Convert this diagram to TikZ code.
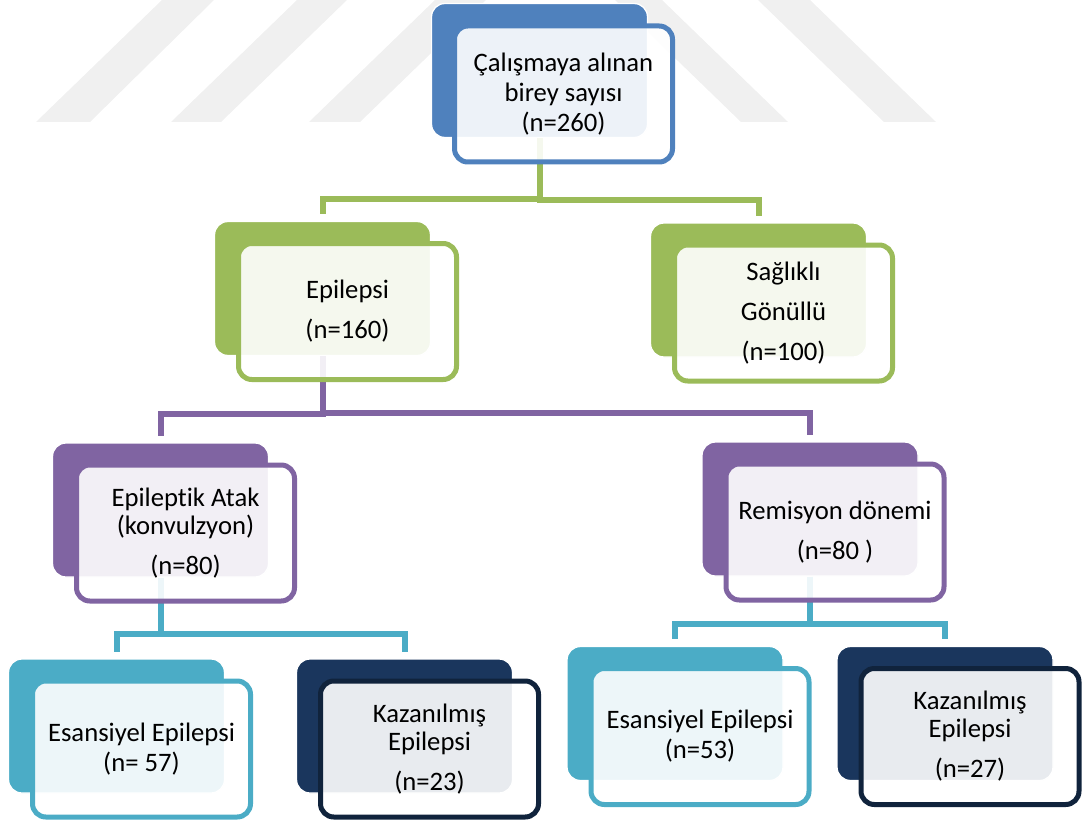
\documentclass[tikz,border=0pt]{standalone}
\usepackage{fontspec}
\setmainfont{Carlito}[Ligatures = NoCommon]

\definecolor{lvlblue}{HTML}{4F81BD}
\definecolor{lvlgreen}{HTML}{9BBB59}
\definecolor{lvlpurple}{HTML}{8064A2}
\definecolor{lvlteal}{HTML}{4BACC6}
\definecolor{lvlnavy}{HTML}{1A365D}
\definecolor{lvlnavyline}{HTML}{10233C}

\begin{document}
\begin{tikzpicture}[x = 0.75pt, y = -0.75pt,
    back/.style = {rectangle, rounded corners = 10pt, fill = #1, draw = white,
        line width = 1pt, minimum width = 162pt, minimum height = 100.5pt, inner sep = 0pt},
    front/.style = {rectangle, rounded corners = 10pt, draw = #1, line width = 3.75pt,
        fill = white, fill opacity = 0.9, text opacity = 1, minimum width = 163.5pt,
        minimum height = 102pt, inner sep = 0pt, align = center,
        font = \fontsize{20}{21}\selectfont},
    link/.style = {draw = #1, line width = 4.5pt, shorten > = 5pt}]

        \useasboundingbox (0, 0) rectangle (1084, 820);

        % Faint stripes of the watermark behind the chart.
        \fill[black!6] (36, 122) -- (90, 122) -- (214, 0) -- (162, 0) -- cycle;
        \fill[black!6] (171, 122) -- (221, 122) -- (347, 0) -- (297, 0) -- cycle;
        \fill[black!6] (309, 122) -- (360, 122) -- (486, 0) -- (435, 0) -- cycle;
        \fill[black!6] (741, 122) -- (788, 122) -- (662, 0) -- (615, 0) -- cycle;
        \fill[black!6] (884, 122) -- (936, 122) -- (810, 0) -- (758, 0) -- cycle;

        % Solid back boxes, one per entry.
        \node[back = lvlblue] (topb) at (539.5, 70.5) {};
        \node[back = lvlgreen] (epib) at (322.5, 288.5) {};
        \node[back = lvlgreen] (sagb) at (758.5, 290) {};
        \node[back = lvlpurple] (atakb) at (160.5, 510) {};
        \node[back = lvlpurple] (remb) at (810, 509) {};
        \node[back = lvlteal] (esaLb) at (116.5, 726) {};
        \node[back = lvlnavy] (kazLb) at (404.5, 726) {};
        \node[back = lvlteal] (esaRb) at (675, 713.5) {};
        \node[back = lvlnavy] (kazRb) at (945, 713.5) {};

        % Connectors from each back box down to the next level.
        \draw[link = lvlgreen] (topb.south) |- ([yshift = 16.5pt] epib.north) -- (epib.north);
        \draw[link = lvlgreen] (topb.south) |- ([yshift = 16.5pt] sagb.north) -- (sagb.north);
        \draw[link = lvlpurple] (epib.south) |- ([yshift = 21.5pt] atakb.north) -- (atakb.north);
        \draw[link = lvlpurple] (epib.south) |- ([yshift = 21.5pt] remb.north) -- (remb.north);
        \draw[link = lvlteal] (atakb.south) |- ([yshift = 18pt] esaLb.north) -- (esaLb.north);
        \draw[link = lvlteal] (atakb.south) |- ([yshift = 18pt] kazLb.north) -- (kazLb.north);
        \draw[link = lvlteal] (remb.south) |- ([yshift = 16.5pt] esaRb.north) -- (esaRb.north);
        \draw[link = lvlteal] (remb.south) |- ([yshift = 16.5pt] kazRb.north) -- (kazRb.north);

        % Front boxes with the texts.
        \node[front = lvlblue] (top) at ([shift = {(24, 23.5)}] topb)
            {Çalışmaya alınan\\[1.5pt] birey sayısı\\[1.5pt] (n=260)};
        \node[front = lvlgreen] (epi) at ([shift = {(25, 23)}] epib)
            {Epilepsi\\[9pt] (n=160)};
        \node[front = lvlgreen] (sag) at ([shift = {(25, 23)}] sagb)
            {Sağlıklı\\[9pt] Gönüllü\\[9pt] (n=100)};
        \node[front = lvlpurple] (atak) at ([shift = {(25, 23)}] atakb)
            {Epileptik Atak\\ (konvulzyon)\\[9pt] (n=80)};
        \node[front = lvlpurple] (rem) at ([shift = {(25, 23)}] remb)
            {Remisyon dönemi\\[9pt] (n=80 )};
        \node[front = lvlteal] (esaL) at ([shift = {(25, 23)}] esaLb)
            {Esansiyel Epilepsi\\[1.5pt] (n= 57)};
        \node[front = lvlnavyline] (kazL) at ([shift = {(25, 23)}] kazLb)
            {Kazanılmış\\ Epilepsi\\[9pt] (n=23)};
        \node[front = lvlteal] (esaR) at ([shift = {(25, 23)}] esaRb)
            {Esansiyel Epilepsi\\[1.5pt] (n=53)};
        \node[front = lvlnavyline] (kazR) at ([shift = {(25, 23)}] kazRb)
            {Kazanılmış\\ Epilepsi\\[9pt] (n=27)};
    \end{tikzpicture}
\end{document}
